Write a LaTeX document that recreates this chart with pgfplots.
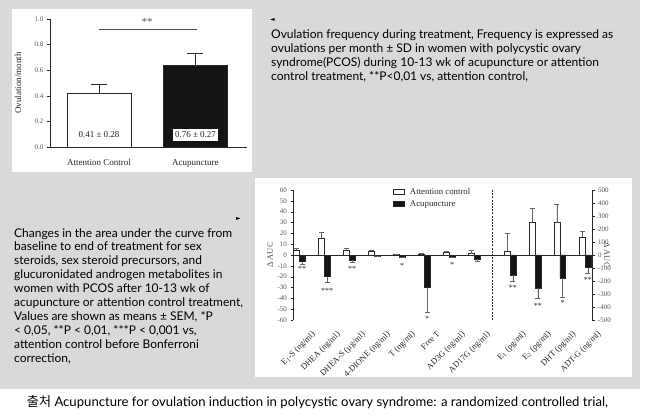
\documentclass[border=0pt]{standalone}
\usepackage{pgfplots}
\pgfplotsset{compat=1.18}
\usepackage{fontspec}
\setmainfont{Liberation Serif}
\newfontfamily\descfont{Lato}
\newfontfamily\krfont{Noto Sans CJK KR}
\newfontfamily\symfont{DejaVu Sans}
\definecolor{bg}{RGB}{217,217,217}
\definecolor{tickc}{RGB}{85,85,85}
\definecolor{axc}{RGB}{40,40,40}
\newlength\reflen
\begin{document}
\settowidth\reflen{\descfont\fontsize{10bp}{12bp}\selectfont Ovulation frequency during treatment, Frequency is expressed as}%
\pgfmathsetmacro\descsize{10*343.28/\reflen}%
\settowidth\reflen{\descfont\fontsize{10bp}{12bp}\selectfont{\krfont 출처} Acupuncture for ovulation induction in polycystic ovary syndrome: a randomized controlled trial,}%
\pgfmathsetmacro\capsize{10*583.18/\reflen}%
\begin{tikzpicture}
\useasboundingbox (0bp,0bp) rectangle (650bp,416bp);
\fill[white] (0bp,0bp) rectangle (650bp,416bp);
\fill[bg] (0bp,27bp) rectangle (640bp,416bp);
\fill[white] (12bp,244bp) rectangle (252bp,407bp);
\fill[white] (255bp,39bp) rectangle (632bp,238bp);

% ---------- chart 1 ----------
\begin{axis}[at={(50bp,269bp)}, anchor=south west, scale only axis,
  width=197bp, height=128bp,
  xmin=-0.508, xmax=1.534, ymin=0, ymax=1,
  axis lines=left, axis line style={-, draw=axc},
  tick align=outside, major tick length=3bp, tick style={draw=axc},
  ytick={0,0.2,0.4,0.6,0.8,1},
  /pgf/number format/assume math mode=true,
  yticklabel style={/pgf/number format/.cd, fixed, fixed zerofill, precision=1, /tikz/.cd, font=\fontsize{7bp}{8bp}\selectfont, text=tickc},
  xtick={0,1}, xticklabels={Attention Control, Acupuncture},
  x tick style={draw=none},
  xticklabel style={font=\fontsize{9bp}{10bp}\selectfont, text=axc, yshift=-6bp},
  ylabel={Ovulation/month},
  ylabel style={at={(axis description cs:-0.162,0.5)}, anchor=center, font=\fontsize{9bp}{10bp}\selectfont, text=axc},
  clip=false]
\addplot[ybar, bar width=0.663, bar shift=0pt, fill=white, draw=axc, line width=0.6pt,
  error bars/.cd, y dir=plus, y explicit, error bar style={line width=0.6pt, axc},
  error mark options={rotate=90, mark size=8bp, line width=0.6pt, axc}]
  coordinates {(0,0.42) +- (0,0.07)};
\addplot[ybar, bar width=0.663, bar shift=0pt, fill=black!92, draw=axc, line width=0.6pt,
  error bars/.cd, y dir=plus, y explicit, error bar style={line width=0.6pt, axc},
  error mark options={rotate=90, mark size=8bp, line width=0.6pt, axc}]
  coordinates {(1,0.64) +- (0,0.09)};
\node[font=\fontsize{9bp}{10bp}\selectfont, text=axc] at (axis cs:0,0.094) {0.41 ± 0.28};
\node[font=\fontsize{9bp}{10bp}\selectfont, text=axc, fill=white, inner sep=2.5bp] at (axis cs:1,0.094) {0.76 ± 0.27};
\draw[black!70, line width=0.6pt] (axis cs:0,0.92) -- (axis cs:1.015,0.92);
\node[font=\fontsize{11bp}{11bp}\selectfont, text=black!65] at (axis cs:0.5,0.975) {**};
\end{axis}

% ---------- chart 2, left axis ----------
\begin{axis}[at={(293bp,96bp)}, anchor=south west, scale only axis,
  width=299bp, height=130bp,
  xmin=-0.25, xmax=11.71, ymin=-60, ymax=60,
  axis y line*=left, axis x line*=bottom,
  x axis line style={draw=none}, y axis line style={-, draw=axc},
  tick align=outside, major tick length=2.5bp, tick style={draw=axc},
  ytick={-60,-50,-40,-30,-20,-10,0,10,20,30,40,50,60},
  /pgf/number format/assume math mode=true,
  yticklabel style={font=\fontsize{7bp}{8bp}\selectfont, text=tickc},
  xtick={0,1,2,3,4,5,6,7,8.43,9.43,10.42,11.43},
  xticklabels={{E\textsubscript{1}-S (ng/ml)},{DHEA (ng/ml)},{DHEA-S (µg/ml)},{4-DIONE (ng/ml)},{T (ng/ml)},{Free T},{AD3G (ng/ml)},{AD17G (ng/ml)},{E\textsubscript{1} (pg/ml)},{E\textsubscript{2} (pg/ml)},{DHT (pg/ml)},{ADT-G (ng/ml)}},
  x tick style={draw=none},
  xticklabel style={xshift=12bp, yshift=-3bp, rotate=45, anchor=north east, font=\fontsize{8.5bp}{9bp}\selectfont, text=axc},
  ylabel={Δ AUC},
  ylabel style={at={(axis description cs:-0.077,0.5)}, anchor=center, font=\fontsize{8.5bp}{9bp}\selectfont, text=tickc},
  legend style={at={(axis description cs:0.334,1.03)}, anchor=north west, draw=none, fill=none,
    font=\fontsize{8.8bp}{9bp}\selectfont, text=axc, inner sep=0pt, row sep=1bp,
    nodes={inner sep=1.8bp}, /tikz/every odd column/.append style={column sep=3.5bp}},
  legend cell align=left,
  clip=false]
\draw[axc, line width=0.6pt] (axis cs:-0.25,0) -- (axis cs:11.71,0);
\draw[axc, line width=0.6pt, dash pattern=on 2bp off 1.2bp] (axis cs:7.71,-60) -- (axis cs:7.71,60);
\addlegendimage{legend image code/.code={\draw[fill=white,draw=axc,line width=0.6pt] (0bp,-2.5bp) rectangle (11bp,2.5bp);}}
\addlegendentry{Attention control}
\addlegendimage{legend image code/.code={\draw[fill=black!92,draw=axc,line width=0.6pt] (0bp,-2.5bp) rectangle (11bp,2.5bp);}}
\addlegendentry{Acupuncture}
\addplot[ybar, bar width=0.23, bar shift=0pt, fill=white, draw=axc, line width=0.5pt, forget plot,
  error bars/.cd, y dir=plus, y explicit, error bar style={line width=0.5pt, black!60},
  error mark options={rotate=90, mark size=2.5bp, line width=0.5pt, black!60}]
  coordinates {(-0.115,4.5) +- (0,1.8) (0.885,15.5) +- (0,5.5) (1.885,4) +- (0,2) (2.885,3.4) +- (0,0.9)
    (3.885,0.6) +- (0,0.2) (4.885,1) +- (0,0.3) (5.885,2.5) +- (0,0.6) (6.885,1.3) +- (0,3.3)};
\addplot[ybar, bar width=0.23, bar shift=0pt, fill=black!92, draw=axc, line width=0.5pt, forget plot,
  error bars/.cd, y dir=minus, y explicit, error bar style={line width=0.5pt, black!60},
  error mark options={rotate=90, mark size=2.5bp, line width=0.5pt, black!60}]
  coordinates {(0.115,-6) +- (0,2.4) (1.115,-20) +- (0,5.5) (2.115,-4.6) +- (0,2.4) (3.115,-1) +- (0,0.3)
    (4.115,-1.8) +- (0,0.3) (5.115,-30) +- (0,22.5) (6.115,-2) +- (0,0.4) (7.115,-4) +- (0,1.5)};
\begin{scope}[every node/.style={font=\fontsize{8bp}{8bp}\selectfont, text=axc}]
\node at (axis cs:0.115,-13) {**};
\node at (axis cs:1.115,-33) {***};
\node at (axis cs:2.115,-13) {**};
\node at (axis cs:4.115,-10) {*};
\node at (axis cs:5.115,-59) {*};
\node at (axis cs:6.115,-9.5) {*};
\end{scope}
\end{axis}

% ---------- chart 2, right axis ----------
\begin{axis}[at={(293bp,96bp)}, anchor=south west, scale only axis,
  width=299bp, height=130bp,
  xmin=-0.25, xmax=11.71, ymin=-500, ymax=500,
  axis y line*=right, axis x line=none,
  y axis line style={-, draw=axc},
  tick align=outside, major tick length=2.5bp, tick style={draw=axc},
  ytick={-500,-400,-300,-200,-100,0,100,200,300,400,500},
  /pgf/number format/assume math mode=true,
  yticklabel style={font=\fontsize{7bp}{8bp}\selectfont, text=tickc},
  ylabel={Δ AUC},
  ylabel style={at={(axis description cs:1.05,0.5)}, anchor=center, rotate=180, font=\fontsize{8.5bp}{9bp}\selectfont, text=tickc},
  clip=false]
\addplot[ybar, bar width=0.23, bar shift=0pt, fill=white, draw=axc, line width=0.5pt,
  error bars/.cd, y dir=plus, y explicit, error bar style={line width=0.5pt, black!60},
  error mark options={rotate=90, mark size=2.5bp, line width=0.5pt, black!60}]
  coordinates {(8.315,31) +- (0,136) (9.315,249) +- (0,110) (10.305,249) +- (0,141) (11.315,136) +- (0,49)};
\addplot[ybar, bar width=0.23, bar shift=0pt, fill=black!92, draw=axc, line width=0.5pt,
  error bars/.cd, y dir=minus, y explicit, error bar style={line width=0.5pt, black!60},
  error mark options={rotate=90, mark size=2.5bp, line width=0.5pt, black!60}]
  coordinates {(8.545,-154) +- (0,51) (9.545,-256) +- (0,77) (10.535,-180) +- (0,146) (11.545,-97) +- (0,47)};
\begin{scope}[every node/.style={font=\fontsize{8bp}{8bp}\selectfont, text=axc}]
\node at (axis cs:8.545,-250) {**};
\node at (axis cs:9.545,-392) {**};
\node at (axis cs:10.535,-370) {*};
\node at (axis cs:11.545,-190) {**};
\end{scope}
\end{axis}

% ---------- texts ----------
\node[font=\symfont\fontsize{6bp}{6bp}\selectfont, inner sep=0] at (272.5bp,396bp) {◄};
\node[anchor=north west, inner sep=0, align=left, font=\descfont\fontsize{\descsize bp}{14.3bp}\selectfont] at (271bp,387bp)
 {Ovulation frequency during treatment, Frequency is expressed as\\
  ovulations per month ± SD in women with polycystic ovary\\
  syndrome(PCOS) during 10-13 wk of acupuncture or attention\\
  control treatment, **P<0,01 vs, attention control,};
\node[font=\symfont\fontsize{6bp}{6bp}\selectfont, inner sep=0] at (238.5bp,197bp) {►};
\node[anchor=north west, inner sep=0, align=left, font=\descfont\fontsize{\descsize bp}{13.9bp}\selectfont] at (14bp,188bp)
 {Changes in the area under the curve from\\
  baseline to end of treatment for sex\\
  steroids, sex steroid precursors, and\\
  glucuronidated androgen metabolites in\\
  women with PCOS after 10-13 wk of\\
  acupuncture or attention control treatment,\\
  Values are shown as means ± SEM, *P\\
  < 0,05, **P < 0,01, ***P < 0,001 vs,\\
  attention control before Bonferroni\\
  correction,};
\node[anchor=base, inner sep=0, font=\descfont\fontsize{\capsize bp}{14bp}\selectfont] at (317.5bp,10bp)
 {{\krfont 출처} Acupuncture for ovulation induction in polycystic ovary syndrome: a randomized controlled trial,};
\end{tikzpicture}
\end{document}
